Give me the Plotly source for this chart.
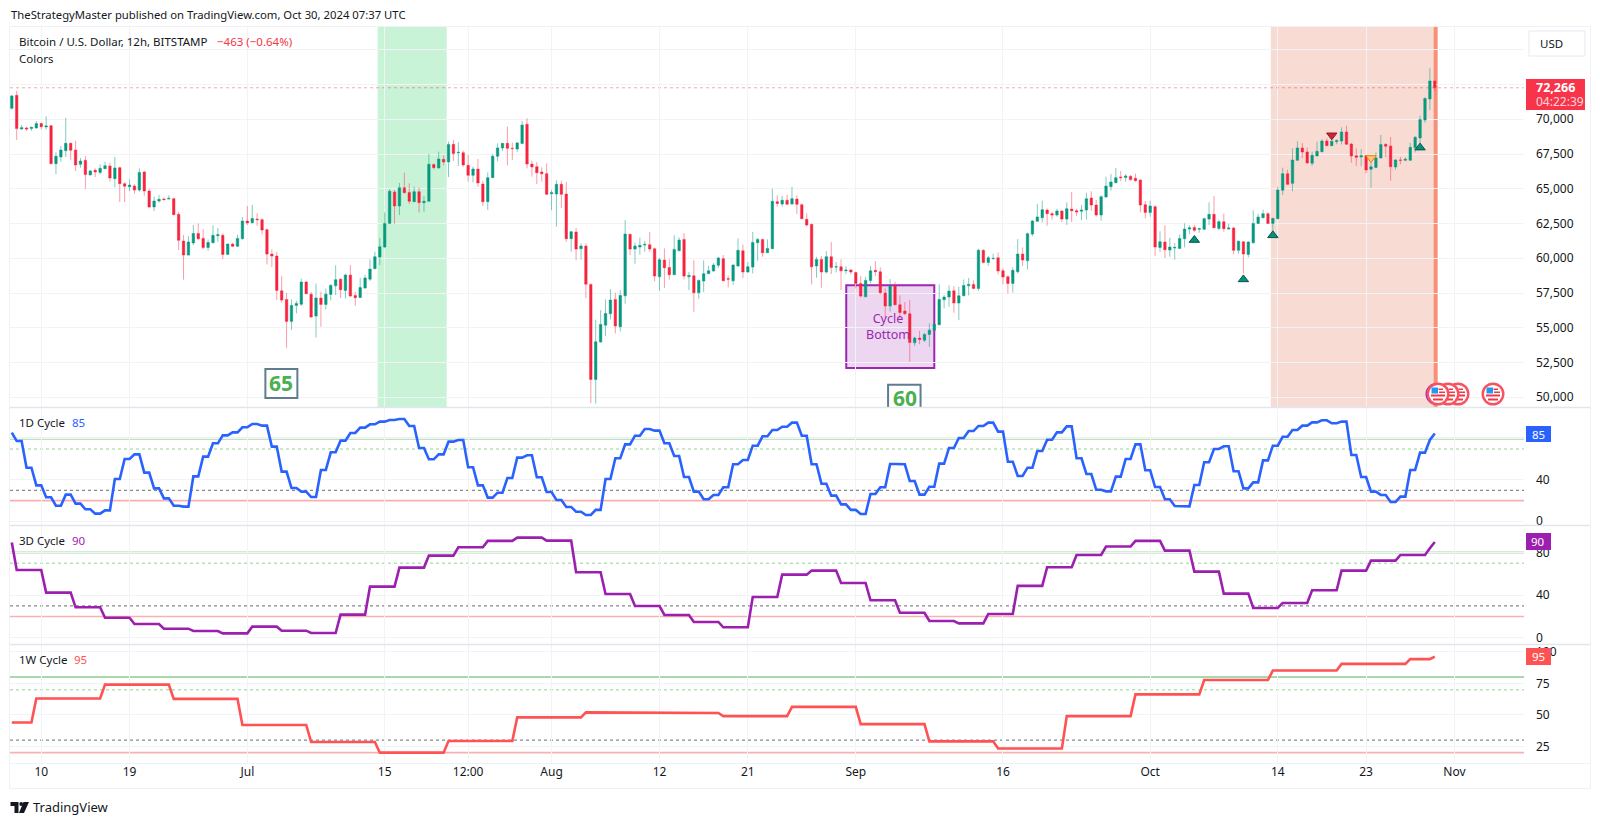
import numpy as np
import pandas as pd
import plotly.graph_objects as go
from plotly.subplots import make_subplots

# ---------------- data ----------------
start_date = "2024-06-07 00:00"
bar_count = 291
open_ = [70790,71730,69300,69380,69330,69380,69690,69450,69540,66810,
 67290,67740,68270,67790,66760,67050,65990,66330,66180,66450,
 66640,65730,66520,65370,65150,65200,64910,66210,64840,63690,
 64120,64260,64260,64290,63160,61240,60230,61100,61790,61430,
 60780,61120,61620,61650,60280,61020,60860,61410,
 62680,62560,62820,62780,62060,60300,60160,57660,57040,55460,56610,56700,
 58290,57420,55840,57140,56680,57400,58020,58500,57690,58790,
 57330,57180,57860,58500,59250,60090,60810,62510,64770,63760,
 65080,64740,64070,64790,64000,64100,66740,66500,67120,66930,
 68200,67600,67600,66690,65970,66420,65340,
 64070,65800,67340,67940,68270,67910,67860,68250,69640,66780,66590,66210,66090,
 64650,64620,65320,64620,61410,61890,60690,60880,58120,51280,
 53970,55190,56010,57040,55070,57300,61720,60660,60810,60950,
 60980,60690,58670,59870,59340,58820,60540,61360,58670,58740,57520,58360,58890,59080,59490,
 59970,58530,58380,59440,60540,59010,59370,61120,61360,60400,
 60690,64070,63900,64170,63900,64260,63860,62800,62440,59440,
 59920,59010,60110,59370,59390,59100,59150,58980,58190,57230,
 58410,59130,59030,57500,56560,58020,56660,56200,56010,53920,
 54260,54110,54520,54830,55220,57020,57210,57660,56780,
 57300,58020,58120,57830,60570,59700,59970,60040,59100,58670,
 58190,59030,60300,59820,61740,62660,62920,63470,63210,63110,
 63400,62820,63540,63420,63380,63470,64340,63830,63110,64410,
 65150,65440,65850,65820,65900,65750,65630,63860,63300,63710,
 60780,61170,60590,60740,60710,61410,62100,62220,
 62080,62080,62820,63160,62150,62630,62100,62180,60570,61190,
 60280,61120,62510,62920,63210,62510,62850,64890,66090,65390,
 67050,67940,67650,66830,67360,67670,68440,68100,68390,68440,
 69090,68220,67380,67290,67380,66400,66540,67220,68200,68080,
 66570,67070,67050,67050,67960,68660,69950,71460,72760]
high = [71750,72040,69590,69470,69470,69880,69760,70220,69590,67620,
 68080,70100,68340,68460,67220,67360,66350,66470,66760,66950,
 66880,67290,66590,65460,65680,65320,66470,66280,65030,64430,
 64550,64380,64530,64360,63350,61670,61600,62390,62510,62100,
 61360,62370,62180,61790,61070,61100,61700,62970,
 63760,63830,63230,62870,62150,60640,60470,58740,57520,57040,56940,58530,
 58380,57590,58190,57590,57830,58140,59490,58550,58890,59510,
 57590,58600,58790,59920,60470,61460,63300,64960,64910,65420,
 66160,65390,65150,65100,64480,67500,66830,67670,67430,68390,
 68510,68340,67740,67430,66590,67140,65580,
 66180,67480,68270,68300,69470,68320,68370,69880,70070,67020,66930,66540,66830,
 64910,65610,65580,65490,61960,62180,61070,61070,58190,55580,
 56270,57040,57780,57520,57710,62750,61770,61120,61500,61240,
 61890,60760,60020,60710,59940,61650,61500,61820,59010,59850,58480,59850,59460,59650,60100,
 60230,58770,59580,61430,60980,59730,61890,61460,61410,61360,
 65010,64530,64480,64580,65130,64530,63950,63230,62490,60110,
 60160,60520,61170,59730,59920,59440,59250,59030,58720,58670,
 59440,59800,59340,57830,58500,58310,57330,56850,56990,54350,
 54780,54640,55310,55360,58120,57350,58050,58000,57950,
 58480,58580,58410,60690,60660,60160,60330,60420,59300,58770,
 59340,61380,60780,61860,62750,63900,64140,63590,63350,63570,
 63450,64020,64770,63570,63830,64720,64820,64190,64530,65870,
 66060,66500,66280,66060,65990,66090,65680,64120,64140,63810,
 61940,62370,61480,61100,61720,62510,62370,62390,
 62200,62940,64020,64480,62780,63210,62490,62250,61290,61240,
 61240,63450,63210,63500,63300,62920,65150,66520,66380,67910,
 68420,68300,67960,67670,68390,68540,68630,68630,68560,69420,
 69540,68300,67910,67840,67430,66950,67620,68870,68270,68730,
 67140,67290,67260,68300,68800,70260,71610,73670,72760]
low = [70700,68510,69260,69180,69180,69330,69280,69260,66760,66060,
 66950,67290,67050,66280,66520,64980,65990,65850,66040,66400,
 65510,65100,64050,64050,64840,64650,64790,64500,63590,63400,
 64000,64170,64240,63090,60590,58460,60210,60950,61310,60660,
 60540,61070,61190,59940,60260,60810,60810,61340,
 62390,62510,62340,61720,59560,59370,56990,56800,53560,54830,56030,56560,
 57400,55720,54300,55070,56320,56970,57350,57140,57110,57230,
 56580,57140,57810,58380,59220,59510,60740,62490,62460,63110,
 64670,63900,64050,63280,63350,64070,66400,66450,66690,65850,
 67000,66640,66590,65510,65460,65130,63760,
 63470,65780,66980,67720,66690,67070,67650,68220,66470,65870,65340,65510,64530,
 63470,62270,63620,61190,60470,59850,59900,57140,49580,49540,
 53940,54400,55600,54590,54740,56730,60230,59610,60260,60470,
 60470,58340,57660,57860,58460,58790,60520,58480,57710,56150,57090,57570,58860,59060,59300,
 58360,57900,58100,59390,58580,58960,58910,59820,60110,60380,
 60660,63710,63710,63860,63880,63180,62820,62270,58120,58600,
 57880,58910,58860,58980,57710,58860,58840,57830,57180,57210,
 58190,58720,57420,55670,56180,56610,55550,55910,52550,53700,
 53820,53970,53630,54780,55170,56390,56510,56080,55550,
 57280,57330,57760,57660,59630,59460,59920,58840,58140,57470,
 57520,58910,59440,59200,61600,62630,62580,62340,62800,62990,
 62610,62390,62610,63040,62750,62800,63420,62990,62700,64360,
 64860,65390,65540,65510,65560,65510,63300,62870,62990,60160,
 60470,60020,60110,59900,60660,60780,61740,61890,
 61840,62060,62390,62150,62010,61910,62080,60280,60330,58910,
 60060,61050,62490,62870,62460,61980,62820,64550,65270,64820,
 67020,67190,66810,66660,67340,67620,68080,68080,68200,68200,
 68150,66880,66640,66620,66110,65080,66470,67190,67290,65580,
 66380,66760,66980,67020,67620,68200,69760,70670,72040]
close = [71680,69330,69400,69300,69420,69690,69470,69520,66810,67340,
 67790,68270,67770,66710,67000,66020,66280,66210,66470,66660,
 65780,66500,65370,65180,65270,64910,66180,64840,63690,64120,
 64240,64220,64310,63140,61290,60230,61170,61790,61410,60780,
 61140,61650,61700,60280,61020,60860,61430,62680,
 62540,62870,62780,62030,60300,60160,57690,56990,55460,56610,56750,58290,
 57450,55770,57140,56680,57420,58050,58460,57740,58790,57280,
 57160,57900,58580,59220,60110,60830,62510,64820,63760,65080,
 64720,64100,64790,64000,64100,66760,66520,67140,66930,68180,
 67530,67620,66710,65970,66420,65420,64070,
 65800,67340,67940,68270,67910,67890,68300,69590,66780,66570,66160,66090,64600,
 64720,65320,64600,61410,61910,60660,60880,58140,51280,53990,
 55240,56030,56990,55120,57330,61740,60660,60880,60930,61000,
 60660,58720,59900,59320,58820,60640,61310,58720,58770,57520,58410,58890,59100,59510,60020,
 58380,58500,59510,60570,59010,59390,61140,61360,60400,60710,
 64100,63950,64170,63880,64290,63880,62850,62390,59390,59920,
 59010,60110,59340,59390,59100,59150,59010,58190,57280,58410,
 59100,59030,57520,56560,57980,56660,56100,56010,53940,54260,
 54160,54520,54830,55260,57040,57210,57640,56780,57300,
 58050,58120,57830,60570,59700,60040,59990,59080,58650,58190,
 59130,60300,59870,61770,62680,62970,63500,63210,63110,63400,
 62820,63570,63420,63330,63470,64290,63830,63110,64430,65200,
 65490,65800,65800,65920,65660,65580,63830,63300,63760,60810,
 61190,60620,60810,60780,61430,62100,62200,62010,
 62130,62850,63160,62200,62630,62130,62180,60570,61220,60300,
 61170,62510,62970,63210,62510,62870,64910,66090,65320,67070,
 67940,67650,66860,67410,67700,68440,68100,68420,68460,69090,
 68200,67360,67260,67380,66350,66590,67220,68180,68060,66590,
 67070,67050,67120,67980,68700,69980,71490,72760,72280]

# 1D cycle: first bar, one value per day (two 12h bars), last two bars
cycle_1d_first = [85.8]
cycle_1d_daily = [77.7,51.9,34.8,23.2,15.1,25.8,17.1,11.6,7.4,10.6,41.0,60.3,64.8,47.1,31.9,22.2,15.1,14.2,43.5,62.6,
 75.5,83.2,86.1,91.0,94.2,92.6,72.3,48.1,32.2,28.7,23.5,49.7,66.8,78.1,85.5,90.7,93.9,96.5,98.1,99.0,
 92.3,71.0,60.0,64.8,77.1,78.7,52.3,34.8,22.9,27.7,41.9,61.6,63.9,42.6,28.4,20.6,13.9,9.3,6.1,11.0,
 41.0,61.0,74.5,82.9,89.4,87.8,75.5,63.2,42.9,28.7,21.3,25.5,32.9,55.2,59.4,73.2,82.3,88.4,91.6,95.5,
 82.9,55.2,36.4,24.8,16.4,11.0,7.1,26.4,32.9,55.5,55.2,39.0,25.8,33.5,55.8,71.0,80.7,87.4,92.3,95.5,
 86.8,57.7,43.9,51.9,68.1,79.0,86.1,91.9,61.0,45.8,30.6,29.0,43.2,60.3,74.5,49.4,33.2,21.3,14.8,14.5,
 35.2,57.1,70.0,72.6,48.4,31.9,37.7,59.0,73.2,81.9,88.4,92.6,95.8,97.8,94.9,96.5,64.2,42.9,28.7,25.5,
 18.7,23.9,49.7,66.5]
cycle_1d_last = [78.7, 85]

# 3D cycle: first bar, one value per 3 days (six 12h bars), last two bars
cycle_3d_first = [89.4]
cycle_3d_steps = [63.7,42.4,28.6,18.8,12.9,8.5,6.3,4.1,10.4,6.6,4.4,21.7,48,65.9,77.2,85,91,94.1,91.3,61.5,41.1,29.8,21.4,14.8,9.8,38.3,59.3,
 63.1,51.5,35.2,23.5,15.7,13.5,22.3,48.7,66.2,77.8,85.7,91,81.9,62.1,41.4,28,32.7,44.6,63.1,72.5,77.8]
cycle_3d_last = [84, 90]

# 1W cycle: one value per week (fourteen 12h bars), partial first and last weeks
cycle_1w_first = 44
cycle_1w_steps = [63,74,62.7,42,28.5,20,29.3,48,52,51.5,49,56.4,42.7,29,23.3,49,66.3,77.7,85.3,90.5]
cycle_1w_tail = 94.3
cycle_1w_last = 96.3

price_ticks = [50000,52500,55000,57500,60000,62500,65000,67500,70000,72500,75000]
price_tick_text = ["50,000","52,500","55,000","57,500","60,000","62,500","65,000","67,500","70,000","",""]
date_ticks = ["2024-06-10","2024-06-19","2024-07-01","2024-07-15","2024-07-23 12:00","2024-08-01","2024-08-12","2024-08-21","2024-09-01","2024-09-16","2024-10-01","2024-10-14","2024-10-23","2024-11-01"]
date_tick_text = ["10","19","Jul","15","12:00","Aug","12","21","Sep","16","Oct","14","23","Nov"]

up_marks_x = ["2024-10-05 12:00","2024-10-10 12:00","2024-10-13 12:00","2024-10-28 12:00"]
up_marks_y = [61310,58480,61650,67960]
red_down_x = ["2024-10-19 12:00"]; red_down_y = [68850]
orange_down_x = ["2024-10-23 12:00"]; orange_down_y = [67220]

last_price = 72266

# ---------------- layout constants ----------------
W, H = 1600, 825
L, R, T, B = 9.5, 1524.0, 27.0, 763.0
FONT = "Noto Sans"
INK = "#131722"
GRID = "#f2f3f6"
UP, DOWN = "#089981", "#f7243f"
BLUE, PURPLE, RED = "#2962ff", "#9c1fb0", "#ff5252"
px_x = lambda x: (x - L) / (R - L)
px_y = lambda y: (B - y) / (B - T)

dates = pd.date_range(start_date, periods=bar_count, freq="12h")
cycle_1d = np.concatenate([cycle_1d_first, np.repeat(cycle_1d_daily, 2), cycle_1d_last])
cycle_3d = np.concatenate([cycle_3d_first, np.repeat(cycle_3d_steps, 6), cycle_3d_last])
cycle_1w = np.concatenate([[cycle_1w_first]*5, np.repeat(cycle_1w_steps, 14), [cycle_1w_tail]*5, [cycle_1w_last]])

fig = make_subplots(rows=4, cols=1, shared_xaxes=True, vertical_spacing=0.002)

fig.add_trace(go.Candlestick(x=dates, open=open_, high=high, low=low, close=close,
    increasing=dict(line=dict(color="rgba(8,153,129,0.5)", width=1), fillcolor=UP),
    decreasing=dict(line=dict(color="rgba(247,36,63,0.45)", width=1), fillcolor=DOWN),
    whiskerwidth=0, showlegend=False, hoverinfo="skip"), row=1, col=1)

fig.add_trace(go.Scatter(x=up_marks_x, y=up_marks_y, mode="markers", showlegend=False, hoverinfo="skip",
    marker=dict(symbol="triangle-up", size=9, color="#0a8f7a", line=dict(color="#00574b", width=1))), row=1, col=1)
fig.add_trace(go.Scatter(x=red_down_x, y=red_down_y, mode="markers", showlegend=False, hoverinfo="skip",
    marker=dict(symbol="triangle-down", size=9, color="#c62838", line=dict(color="#8e1b26", width=1))), row=1, col=1)
fig.add_trace(go.Scatter(x=orange_down_x, y=orange_down_y, mode="markers", showlegend=False, hoverinfo="skip",
    marker=dict(symbol="triangle-down", size=9, color="#ffc680", line=dict(color="#f57c00", width=1))), row=1, col=1)

for r, s, c in [(2, cycle_1d, BLUE), (3, cycle_3d, PURPLE), (4, cycle_1w, RED)]:
    fig.add_trace(go.Scatter(x=dates, y=s, mode="lines", line=dict(color=c, width=2.6), showlegend=False, hoverinfo="skip"), row=r, col=1)

# bands and boxes on the price pane
fig.add_vrect(x0="2024-07-14 06:45", x1="2024-07-21 07:30", fillcolor="#c9f3d6", opacity=1, line_width=0, layer="below", row=1, col=1)
fig.add_vrect(x0="2024-10-13 07:00", x1="2024-10-29 21:00", fillcolor="#f8dcd4", opacity=1, line_width=0, layer="below", row=1, col=1)
fig.add_vrect(x0="2024-10-29 21:00", x1="2024-10-30 07:00", fillcolor="#f79078", opacity=1, line_width=0, layer="below", row=1, col=1)
fig.add_hline(y=last_price, line=dict(color="rgba(242,54,69,0.45)", width=1, dash="dot"), layer="below", row=1, col=1)
fig.add_shape(type="rect", xref="x", yref="y", x0="2024-08-31 00:40", x1="2024-09-09 00:00", y0=52110, y1=58060,
              fillcolor="rgba(156,39,176,0.19)", line=dict(color="#9c27b0", width=2), layer="below")
fig.add_shape(type="rect", xref="x", yref="y", x0="2024-07-02 20:10", x1="2024-07-06 02:24", y0=49950, y1=52040,
              fillcolor="#ffffff", line=dict(color="#5f7d8e", width=2), layer="above")
fig.add_shape(type="rect", xref="x", yref="y", x0="2024-09-04 07:00", x1="2024-09-07 14:24", y0=48900, y1=50900,
              fillcolor="#ffffff", line=dict(color="#5f7d8e", width=2), layer="above")

# oscillator levels
for r in (2, 3, 4):
    fig.add_hline(y=80, line=dict(color="#a9d8ad", width=2), layer="below", row=r, col=1)
    fig.add_hline(y=70, line=dict(color="#b5e3b8", width=1.5, dash="dot"), layer="below", row=r, col=1)
    fig.add_hline(y=30, line=dict(color="#85888f", width=1.2, dash="dot"), layer="below", row=r, col=1)
    fig.add_hline(y=20, line=dict(color="#f9b0b0", width=1.6), layer="below", row=r, col=1)

annotations = []
def text(px, py, s, size=12, color=INK, anchor="left", weight=None):
    annotations.append(dict(xref="paper", yref="paper", x=px_x(px), y=px_y(py), text=s, showarrow=False,
        xanchor=anchor, yanchor="middle", borderpad=0,
        font=dict(family=FONT, size=size, color=color, weight=weight or "normal")))

text(9.5, 14.5, "TheStrategyMaster published on TradingView.com, Oct 30, 2024 07:37 UTC", 11.3)
text(17.5, 42, "Bitcoin / U.S. Dollar, 12h, BITSTAMP", 11.5)
text(216, 42, "−463 (−0.64%)", 11.5, "#f23645")
text(17.5, 59, "Colors", 11.5)
text(17.5, 422.5, "1D Cycle", 11.5); text(71, 422.5, "85", 11.5, BLUE)
text(17.5, 540.5, "3D Cycle", 11.5); text(71, 540.5, "90", 11.5, PURPLE)
text(17.5, 659, "1W Cycle", 11.5); text(73, 659, "95", 11.5, RED)

for xv, yv, s, size in [("2024-07-04 11:15", 51060, "65", 21), ("2024-09-06 01:00", 49950, "60", 21)]:
    annotations.append(dict(xref="x", yref="y", x=xv, y=yv, text=s, showarrow=False, borderpad=0,
        font=dict(family=FONT, size=size, color="#4caf50", weight="bold")))
annotations.append(dict(xref="x", yref="y", x="2024-09-04 07:00", y=55060, text="Cycle<br>Bottom", showarrow=False, borderpad=0,
    font=dict(family=FONT, size=12.5, color="#9c27b0")))

# right-hand tags
shapes = []
def box(x0, y0, x1, y1, fill, line=None, lw=0):
    shapes.append(dict(type="rect", xref="paper", yref="paper", x0=px_x(x0), x1=px_x(x1), y0=px_y(y0), y1=px_y(y1),
                       fillcolor=fill, line=dict(color=line or fill, width=lw), layer="above"))

box(1529, 31, 1585, 56, "#ffffff", "#e6e8ee", 1)
text(1539, 43.5, "USD", 11.5)
box(1526, 79, 1585, 110, "#f7344a")
text(1535, 87.5, "72,266", 12.5, "#ffffff", weight="bold")
text(1535, 101.5, "04:22:39", 12, "rgba(255,255,255,0.8)")
box(1526, 426, 1551, 442, BLUE); text(1538.5, 434, "85", 11.5, "#ffffff", "center")
box(1526, 533, 1551, 550, PURPLE); text(1538.5, 541.5, "90", 11.5, "#ffffff", "center")
box(1526, 648, 1551, 665, RED); text(1538.5, 656.5, "95", 11.5, "#ffffff", "center")

# separators and frame
for y in (407.5, 525.5, 644.5):
    shapes.append(dict(type="line", xref="paper", yref="paper", x0=px_x(9.5), x1=px_x(1590), y0=px_y(y), y1=px_y(y),
                       line=dict(color="#e3e5ec", width=1.5), layer="above"))
shapes.append(dict(type="line", xref="paper", yref="paper", x0=px_x(9.5), x1=px_x(1590), y0=px_y(763.5), y1=px_y(763.5),
                   line=dict(color="#eff0f4", width=1), layer="above"))
shapes.append(dict(type="rect", xref="paper", yref="paper", x0=px_x(9), x1=px_x(1590.5), y0=px_y(26.5), y1=px_y(788.5),
                   line=dict(color="#f0f1f6", width=1), layer="above"))

# US flag event icons
def circle(cx, cy, r, fill, line, lw):
    shapes.append(dict(type="circle", xref="paper", yref="paper", x0=px_x(cx-r), x1=px_x(cx+r), y0=px_y(cy-r), y1=px_y(cy+r),
                       fillcolor=fill, line=dict(color=line, width=lw), layer="above"))
def flag(cx, cy):
    circle(cx, cy, 10.3, "#ffffff", "#f7525f", 2.4)
    box(cx-7, cy+0.5, cx+7, cy+2.5, "#f23645")
    box(cx-5, cy+4.5, cx+5, cy+6.5, "#f23645")
    box(cx+0.5, cy-5.5, cx+5, cy-4, "#f23645")
    box(cx+1, cy-2.5, cx+7, cy-1, "#f23645")
    box(cx-6.5, cy-6.5, cx+0, cy-0.5, "#2196f3")
circle(1436.5, 394, 10.3, "#ffffff", "#9c27b0", 1.5)
for cx in (1493, 1458, 1448, 1438):
    flag(cx, 394)

# TradingView logo
def pts(p):
    return "M" + " L".join(f"{px_x(x):.5f},{px_y(y):.5f}" for x, y in p) + " Z"
for p in ([(10, 802), (18, 802), (18, 813), (14, 813), (14, 806), (10, 806)],
          [(23, 802), (28.5, 802), (23.5, 813), (18.5, 813)]):
    shapes.append(dict(type="path", xref="paper", yref="paper", path=pts(p), fillcolor="#131722", line=dict(width=0), layer="above"))
circle(20.7, 804, 1.9, "#131722", "#131722", 0)
text(32, 807.5, "TradingView", 13, INK)

fig.update_layout(width=W, height=H, autosize=False, paper_bgcolor="#ffffff", plot_bgcolor="#ffffff",
    margin=dict(l=L, r=W-R, t=T, b=H-B, pad=0), showlegend=False, boxgap=0.28, hovermode=False,
    font=dict(family=FONT, size=12, color=INK),
    annotations=annotations, shapes=list(fig.layout.shapes) + shapes)

x_range = ["2024-06-06 19:36", "2024-11-08 02:10"]
fig.update_xaxes(type="date", range=x_range, tickmode="array", tickvals=date_ticks, ticktext=date_tick_text,
    showgrid=True, gridcolor=GRID, gridwidth=1, zeroline=False, showline=False, ticks="", showticklabels=False, rangeslider_visible=False)
fig.update_xaxes(showticklabels=True, tickfont=dict(family=FONT, size=12, color=INK), row=4, col=1)

axis_common = dict(side="right", showgrid=True, gridcolor=GRID, gridwidth=1, zeroline=False, showline=False, ticks="",
                   tickmode="array", ticklabelstandoff=11, tickfont=dict(family=FONT, size=12, color=INK))
fig.update_yaxes(domain=[px_y(407), 1], range=[49300, 76640], tickvals=price_ticks, ticktext=price_tick_text, row=1, col=1, **axis_common)
fig.update_yaxes(domain=[px_y(525), px_y(408)], range=[-3.6, 109.7], tickvals=[0, 40, 80], ticktext=["0", "40", ""], row=2, col=1, **axis_common)
fig.update_yaxes(domain=[px_y(644), px_y(526)], range=[-5.9, 105], tickvals=[0, 40, 80], ticktext=["0", "40", "80"], row=3, col=1, **axis_common)
fig.update_yaxes(domain=[0, px_y(645)], range=[11.8, 105.5], tickvals=[25, 50, 75, 100], ticktext=["25", "50", "75", "100"], row=4, col=1, **axis_common)

fig.write_html("out.html", config={"displayModeBar": False},
               post_script="document.body.style.margin='0';document.documentElement.style.overflow='hidden';")
